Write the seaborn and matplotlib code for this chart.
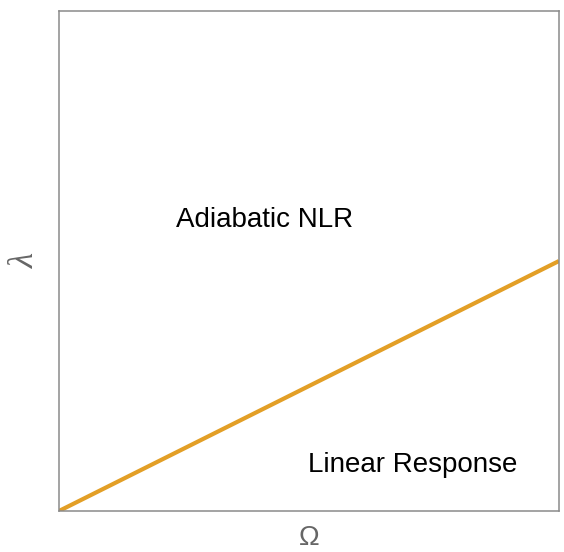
import matplotlib
matplotlib.use("Agg")
import matplotlib.pyplot as plt
import seaborn as sns
import pandas as pd

# Phase boundary between the two response regimes
omega = [0.0, 1.0]
lam = [0.0, 0.5]

region_labels = ["Adiabatic NLR", "Linear Response"]
region_x = [0.411, 0.708]
region_y = [0.568, 0.078]

sns.set_theme(style="white")
plt.rcParams["font.family"] = ["Liberation Sans", "DejaVu Sans"]

fig = plt.figure(figsize=(5.64, 5.52), dpi=100)
ax = fig.add_axes([59 / 564, 41 / 552, 500 / 564, 500 / 552])

df = pd.DataFrame({"omega": omega, "lam": lam})
sns.lineplot(data=df, x="omega", y="lam", ax=ax, color="#E39F26", linewidth=3.0,
             solid_capstyle="butt")

for txt, x, y in zip(region_labels, region_x, region_y):
    ax.text(x, y, txt, fontsize=20, ha="center", va="baseline", color="black")

ax.set_xlim(0, 1)
ax.set_ylim(0, 1)
ax.set_xticks([])
ax.set_yticks([])
for s in ax.spines.values():
    s.set_color("#8a8a8a")
    s.set_linewidth(1.1)

ax.set_xlabel("Ω", fontsize=20, color="#666666", labelpad=10)
ax.set_ylabel("λ", fontsize=25, color="#666666", labelpad=12,
              family=["Liberation Serif", "DejaVu Serif"], style="italic")

fig.savefig("out.png", dpi=100)
